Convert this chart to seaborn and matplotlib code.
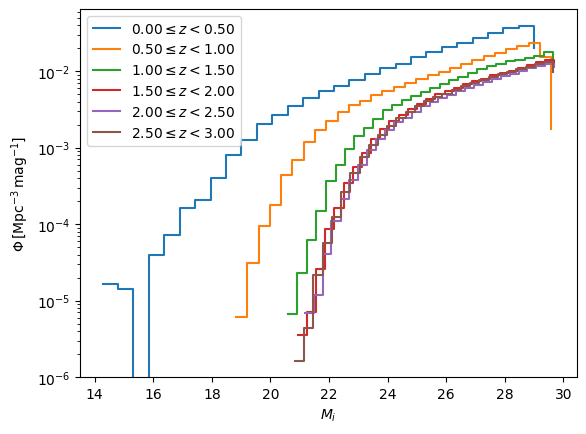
import numpy as np
import pandas as pd
import seaborn as sns
import matplotlib
matplotlib.use("Agg")
from matplotlib import pyplot as plt

# luminosity function per redshift bin (steps-post)
labels = [
    r"$0.00 \leq z < 0.50$",
    r"$0.50 \leq z < 1.00$",
    r"$1.00 \leq z < 1.50$",
    r"$1.50 \leq z < 2.00$",
    r"$2.00 \leq z < 2.50$",
    r"$2.50 \leq z < 3.00$",
]

mag_z0 = [14.27, 14.80, 15.32, 15.85, 16.38, 16.90, 17.43, 17.96, 18.48, 19.01,
          19.54, 20.06, 20.59, 21.11, 21.64, 22.17, 22.69, 23.22, 23.74, 24.27,
          24.80, 25.32, 25.85, 26.38, 26.90, 27.43, 27.95, 28.48, 29.01]
phi_z0 = [1.66e-5, 1.41e-5, 0.0, 3.98e-5, 7.3e-5, 1.6e-4, 2.05e-4, 3.97e-4, 7.9e-4, 1.27e-3,
          2.06e-3, 2.64e-3, 3.47e-3, 4.41e-3, 5.55e-3, 6.4e-3, 7.74e-3, 9.27e-3, 1.09e-2, 1.26e-2,
          1.55e-2, 1.78e-2, 2.05e-2, 2.36e-2, 2.72e-2, 3.19e-2, 3.7e-2, 3.93e-2, 2.01e-2]

mag_z1 = [18.83, 19.21, 19.60, 19.98, 20.37, 20.75, 21.13, 21.52, 21.90, 22.29,
          22.67, 23.05, 23.44, 23.82, 24.21, 24.59, 24.97, 25.36, 25.74, 26.13,
          26.51, 26.89, 27.28, 27.66, 28.05, 28.43, 28.81, 29.20, 29.58]
phi_z1 = [6.18e-6, 3.14e-5, 9.35e-5, 1.76e-4, 4.35e-4, 6.83e-4, 1.19e-3, 1.72e-3, 2.25e-3, 2.93e-3,
          3.57e-3, 4.07e-3, 4.83e-3, 5.51e-3, 6.21e-3, 7.01e-3, 7.81e-3, 8.81e-3, 9.77e-3, 1.11e-2,
          1.23e-2, 1.38e-2, 1.56e-2, 1.73e-2, 1.93e-2, 2.13e-2, 2.36e-2, 1.53e-2, 1.78e-3]

mag_z2 = [20.60, 20.92, 21.25, 21.57, 21.89, 22.22, 22.54, 22.86, 23.18, 23.51,
          23.83, 24.15, 24.48, 24.80, 25.12, 25.45, 25.77, 26.09, 26.41, 26.74,
          27.06, 27.38, 27.71, 28.03, 28.35, 28.68, 29.00, 29.32, 29.64]
phi_z2 = [6.62e-6, 2.28e-5, 6.14e-5, 1.47e-4, 3.63e-4, 5.87e-4, 9.5e-4, 1.41e-3, 1.81e-3, 2.39e-3,
          3.08e-3, 3.57e-3, 4.15e-3, 4.74e-3, 5.35e-3, 6.08e-3, 6.73e-3, 7.74e-3, 8.4e-3, 9.47e-3,
          1.08e-2, 1.17e-2, 1.26e-2, 1.34e-2, 1.42e-2, 1.5e-2, 1.6e-2, 1.78e-2, 1.46e-2]

mag_z3 = [20.93, 21.24, 21.56, 21.87, 22.18, 22.50, 22.81, 23.12, 23.43, 23.75,
          24.06, 24.37, 24.69, 25.00, 25.31, 25.63, 25.94, 26.25, 26.56, 26.88,
          27.19, 27.50, 27.82, 28.13, 28.44, 28.76, 29.07, 29.38, 29.69]
phi_z3 = [3.5e-6, 7.1e-6, 2.56e-5, 8.55e-5, 1.64e-4, 3.46e-4, 5.65e-4, 8.6e-4, 1.29e-3, 1.73e-3,
          2.21e-3, 2.7e-3, 3.2e-3, 3.75e-3, 4.37e-3, 5.08e-3, 5.51e-3, 6.08e-3, 6.72e-3, 7.36e-3,
          7.98e-3, 8.81e-3, 9.47e-3, 1.02e-2, 1.11e-2, 1.19e-2, 1.32e-2, 1.42e-2, 1.29e-2]

mag_z4 = [21.17, 21.47, 21.78, 22.08, 22.39, 22.69, 22.99, 23.30, 23.60, 23.91,
          24.21, 24.51, 24.82, 25.12, 25.43, 25.73, 26.03, 26.34, 26.64, 26.95,
          27.25, 27.55, 27.86, 28.16, 28.47, 28.77, 29.07, 29.38, 29.68]
phi_z4 = [6.8e-6, 1.17e-5, 4.11e-5, 1.09e-4, 2.11e-4, 3.74e-4, 5.87e-4, 9.2e-4, 1.31e-3, 1.68e-3,
          2.17e-3, 2.47e-3, 2.96e-3, 3.54e-3, 3.99e-3, 4.51e-3, 4.93e-3, 5.48e-3, 6.08e-3, 6.66e-3,
          7.29e-3, 7.97e-3, 8.6e-3, 9.27e-3, 1.02e-2, 1.09e-2, 1.18e-2, 1.25e-2, 1.15e-2]

mag_z5 = [20.83, 21.15, 21.46, 21.78, 22.09, 22.41, 22.72, 23.04, 23.35, 23.67,
          23.98, 24.30, 24.61, 24.93, 25.24, 25.56, 25.87, 26.19, 26.50, 26.82,
          27.13, 27.45, 27.76, 28.08, 28.39, 28.71, 29.02, 29.34, 29.65]
phi_z5 = [1.63e-6, 4.4e-6, 2.14e-5, 5.67e-5, 1.22e-4, 2.64e-4, 4.71e-4, 7.55e-4, 1.07e-3, 1.48e-3,
          1.9e-3, 2.44e-3, 2.96e-3, 3.49e-3, 4.05e-3, 4.57e-3, 5.08e-3, 5.73e-3, 6.36e-3, 6.96e-3,
          7.74e-3, 8.47e-3, 9.14e-3, 9.85e-3, 1.06e-2, 1.15e-2, 1.23e-2, 1.32e-2, 9.8e-3]

mags = [mag_z0, mag_z1, mag_z2, mag_z3, mag_z4, mag_z5]
phis = [phi_z0, phi_z1, phi_z2, phi_z3, phi_z4, phi_z5]

# %% plot

fig = plt.figure(figsize=(5.86, 4.35), dpi=100)
ax = fig.add_axes([80 / 586, 1 - 378 / 435, 497 / 586, 368 / 435])
colors = sns.color_palette("tab10", 6)

for mag, phi, label, color in zip(mags, phis, labels, colors):
    df = pd.DataFrame({"mag": mag, "phi": phi})
    sns.lineplot(data=df, x="mag", y="phi", drawstyle="steps-post",
                 errorbar=None, color=color, label=label, ax=ax)

ax.set_yscale("log")
ax.set_ylim(bottom=1e-6)
ax.set_xlabel(r"$M_i$")
ax.set_ylabel(r"$\Phi\,[\mathrm{Mpc}^{-3}\,\mathrm{mag}^{-1}]$")
ax.legend(loc="upper left")

fig.savefig("out.png", dpi=100)
